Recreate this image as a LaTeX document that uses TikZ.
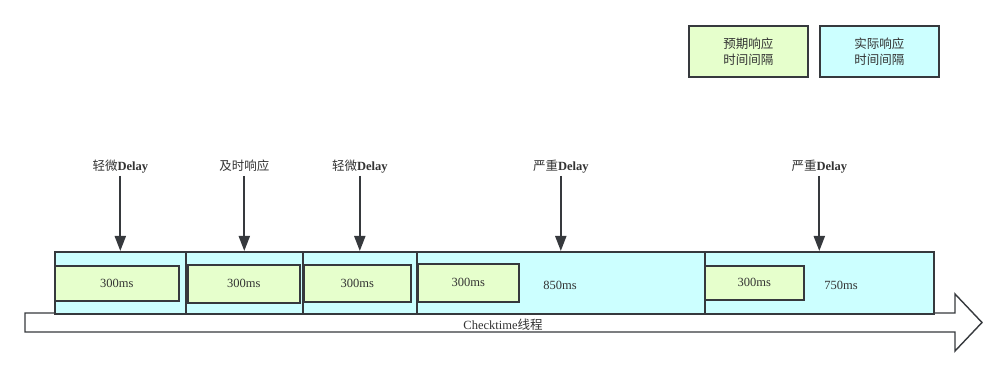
\documentclass[tikz,border=0pt]{standalone}
\usepackage{fontspec}
\setmainfont{Liberation Serif}
\newfontfamily\cjk{Noto Sans CJK SC}
\usetikzlibrary{arrows.meta,positioning}
\definecolor{expgreen}{RGB}{230,255,204}
\definecolor{actcyan}{RGB}{204,255,255}
\definecolor{edgegray}{RGB}{54,57,61}
\definecolor{txtgray}{RGB}{51,51,51}

\begin{document}
\begin{tikzpicture}[x=1pt,y=-1pt,>={Triangle[length=15pt,width=11pt]},
  every node/.style={text=txtgray,font=\fontsize{12.5}{16}\selectfont},
  actual/.style={draw=edgegray,line width=1.6pt,fill=actcyan,inner sep=0pt,anchor=north west},
  expected/.style={draw=edgegray,line width=1.6pt,fill=expgreen,inner sep=0pt,anchor=north west},
  event/.style={text height=9pt,text depth=3pt,inner sep=2pt},
  marker/.style={->,draw=edgegray,line width=2pt}]
  \useasboundingbox (0,0) rectangle (1007,374);
  % time line
  \draw[edgegray,line width=1.4pt,fill=white] (25,313) -- (955,313) -- (955,294) -- (982,322.5)
    -- (955,351) -- (955,332) -- (25,332) -- cycle;
  \node (thread) at (503,325) {Checktime{\cjk 线程}};
  % actual intervals
  \foreach \l/\r/\n in {54/185/1,185/302/2,302/416/3,416/704/4,704/933/5}{
    \pgfmathsetmacro\w{\r-\l}
    \node[actual,minimum width=\w pt,minimum height=62pt] (act\n) at (\l,251) {};
  }
  % expected intervals
  \node[expected,minimum width=124pt,minimum height=35pt] (exp1) at (54,265) {300ms};
  \node[expected,minimum width=112pt,minimum height=38pt] (exp2) at (187,264) {300ms};
  \node[expected,minimum width=107pt,minimum height=37pt] (exp3) at (303,264) {300ms};
  \node[expected,minimum width=101pt,minimum height=38pt] (exp4) at (417,263) {300ms};
  \node[expected,minimum width=99pt,minimum height=34pt] (exp5) at (704,265) {300ms};
  \node (tot4) at (560,285) {850ms};
  \node (tot5) at (841,285) {750ms};
  % response markers
  \node[event,above=75pt of act1] (ev1) {{\cjk 轻微}\textbf{Delay}};
  \node[event,above=75pt of act2] (ev2) {\cjk 及时响应};
  \node[event,above=75pt of act3] (ev3) {{\cjk 轻微}\textbf{Delay}};
  \node[event,above=75pt of act4] (ev4) {{\cjk 严重}\textbf{Delay}};
  \node[event,above=75pt of act5] (ev5) {{\cjk 严重}\textbf{Delay}};
  \foreach \n in {1,...,5}
    \draw[marker] (ev\n) -- (act\n.north);
  % legend
  \node[expected,minimum width=119pt,minimum height=51pt,align=center] (keyexp) at (688,25)
    {\cjk 预期响应\\\cjk 时间间隔};
  \node[actual,minimum width=119pt,minimum height=51pt,align=center] (keyact) at (819,25)
    {\cjk 实际响应\\\cjk 时间间隔};
\end{tikzpicture}
\end{document}
